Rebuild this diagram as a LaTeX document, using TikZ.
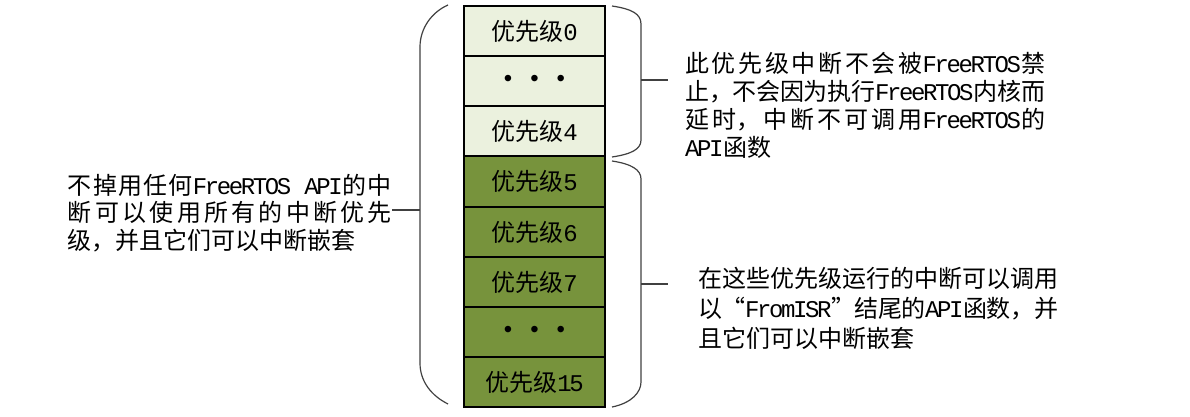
\documentclass[tikz,border=0pt]{standalone}
\usepackage{fontspec}
\setmainfont{Noto Sans CJK SC}
\newfontfamily\lat{Liberation Mono}[Scale=1.0, LetterSpace=-10]
\XeTeXlinebreaklocale "zh"
\XeTeXlinebreakskip=0pt plus 3pt minus 0.5pt
\setlength{\parindent}{0pt}
\definecolor{prioLight}{HTML}{EBF1DE}
\definecolor{prioDark}{HTML}{77933C}

\begin{document}
\begin{tikzpicture}[x=0.5pt,y=-0.5pt,
  prio/.style={draw, line width=0.75pt, minimum width=70.5pt, minimum height=25pt,
    inner sep=0pt, font=\fontsize{12pt}{14pt}\selectfont},
  high/.style={prio, fill=prioLight},
  low/.style={prio, fill=prioDark},
  brc/.style={line width=0.6pt, black!75},
  note/.style={align=justify, inner sep=0pt, text width=180pt}]
  \useasboundingbox (0,0) rectangle (1190,417);
  % Priority column
  \node[high] (p0) at (534.5,31) {优先级{\lat 0}};
  \node[high] (pa) at (534.5,81) {\lat •~•~•};
  \node[high] (p4) at (534.5,131) {优先级{\lat 4}};
  \node[low] (p5) at (534.5,181.5) {优先级{\lat 5}};
  \node[low] (p6) at (534.5,232) {优先级{\lat 6}};
  \node[low] (p7) at (534.5,282) {优先级{\lat 7}};
  \node[low] (pb) at (534.5,332) {\lat •~•~•};
  \node[low] (p15) at (534.5,382) {优先级{\lat 15}};
  % Notes
  \node[note, text width=162pt, font=\fontsize{12pt}{13.75pt}\selectfont] (lnote) at (230,213)
    {不掉用任何{\lat FreeRTOS API}的中\linebreak 断可以使用所有的中断优先\linebreak 级，并且它们可以中断嵌套};
  \node[note, font=\fontsize{12pt}{14pt}\selectfont] (unote) at (865,105.75)
    {此优先级中断不会被{\lat FreeRTOS}禁\linebreak 止，不会因为执行{\lat FreeRTOS}内核而\linebreak 延时，中断不可调用{\lat FreeRTOS}的\linebreak {\lat API}函数};
  \node[note, font=\fontsize{12pt}{15pt}\selectfont] (dnote) at (878,308)
    {在这些优先级运行的中断可以调用\linebreak 以“{\lat FromISR}”结尾的{\lat API}函数，并\linebreak 且它们可以中断嵌套};
  % Braces
  % all levels
  \draw[brc] (448,5) .. controls (432,12) and (420,28) .. (420,47) -- (420,363)
    .. controls (420,382) and (432,396) .. (448,404);
  \coordinate (lmid) at (420,210);
  \draw[brc] (lmid) -- (lmid -| lnote.east);
  % levels 0..4
  \draw[brc] (612,6) .. controls (632,9) and (641,14) .. (641,24) -- (641,140)
    .. controls (641,149) and (632,154) .. (612,157);
  \coordinate (umid) at (641,80);
  \draw[brc, shorten >=8.5pt] (umid) -- (umid -| unote.west);
  % levels 5..15
  \draw[brc] (612,161) .. controls (632,164) and (641,170) .. (641,179) -- (641,382)
    .. controls (641,392) and (632,403) .. (612,407);
  \coordinate (dmid) at (641,284);
  \draw[brc, shorten >=15pt] (dmid) -- (dmid -| dnote.west);
\end{tikzpicture}
\end{document}
